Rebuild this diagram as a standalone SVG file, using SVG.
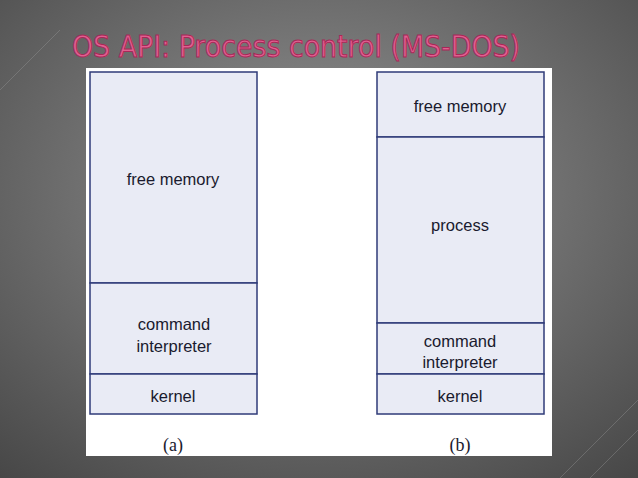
<svg xmlns="http://www.w3.org/2000/svg" width="638" height="478" viewBox="0 0 638 478">
<defs>
<radialGradient id="bg" cx="0.5" cy="0.4" r="0.8"><stop offset="0" stop-color="#959595"/><stop offset="1" stop-color="#454545"/></radialGradient>
<style>
.b{fill:#e9ebf5;stroke:#2f3b78;stroke-width:1.5}
.t{font-family:"Liberation Sans",Arial,sans-serif;font-size:16.5px;fill:#1a1a2e;text-anchor:middle}
.c{font-family:"Liberation Serif",serif;font-size:18px;fill:#1a1a2e;text-anchor:middle}
</style>
</defs>
<rect width="638" height="478" fill="url(#bg)"/>
<g stroke="#a0a0a0" stroke-opacity="0.35" fill="none"><path d="M560 478L638 400M590 478L638 430M0 90L60 30"/></g>
<text x="72" y="57" font-family="'DejaVu Sans',sans-serif" font-size="30" fill="#e06090" stroke="#a82858" stroke-width="1" textLength="448" lengthAdjust="spacingAndGlyphs">OS API: Process control (MS-DOS)</text>
<rect x="86" y="68" width="466" height="388" fill="#ffffff"/>
<g id="a-free"><rect class="b" x="90" y="72" width="167" height="211"/><text class="t" x="173" y="185">free memory</text></g>
<g id="a-cmd"><rect class="b" x="90" y="283" width="167" height="91"/><text class="t" x="174" y="330">command</text><text class="t" x="174" y="352">interpreter</text></g>
<g id="a-kernel"><rect class="b" x="90" y="374" width="167" height="40"/><text class="t" x="173" y="402">kernel</text></g>
<g id="b-free"><rect class="b" x="377" y="72" width="167" height="65"/><text class="t" x="460" y="112">free memory</text></g>
<g id="b-proc"><rect class="b" x="377" y="137" width="167" height="186"/><text class="t" x="460" y="231">process</text></g>
<g id="b-cmd"><rect class="b" x="377" y="323" width="167" height="51"/><text class="t" x="460" y="347">command</text><text class="t" x="460" y="368">interpreter</text></g>
<g id="b-kernel"><rect class="b" x="377" y="374" width="167" height="40"/><text class="t" x="460" y="402">kernel</text></g>
<g id="connectors"/>
<text class="c" x="173" y="451">(a)</text>
<text class="c" x="460" y="451">(b)</text>
</svg>
